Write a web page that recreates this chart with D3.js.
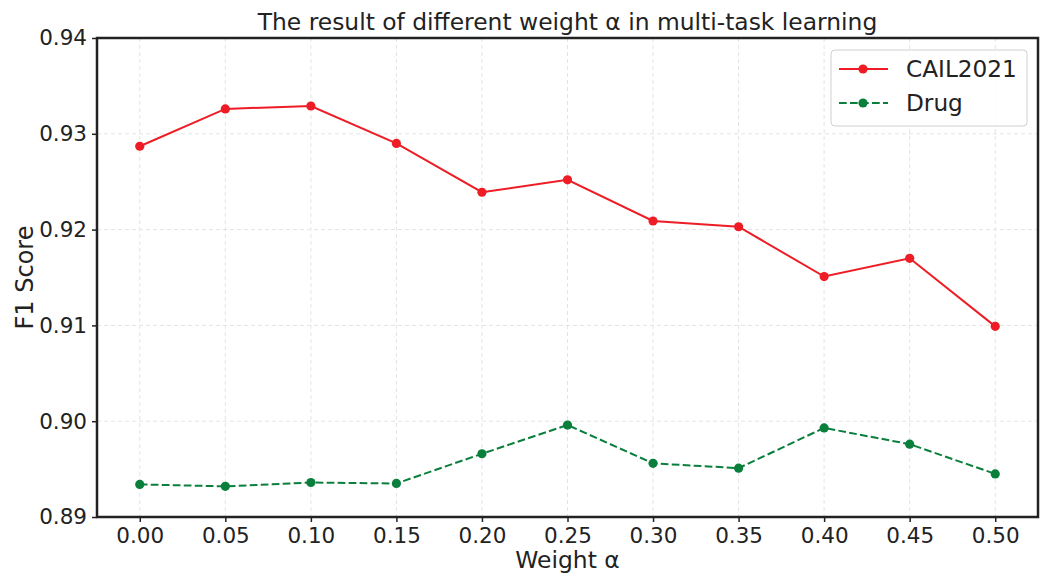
<!DOCTYPE html>
<html>
<head>
<meta charset="utf-8">
<script src="https://cdn.jsdelivr.net/npm/d3@7"></script>
<style>
  body { margin: 0; background: #fff; }
  svg { display: block; font-family: "DejaVu Sans", sans-serif; }
</style>
</head>
<body>
<div id="chart"></div>
<script>
const weights = [0.00, 0.05, 0.10, 0.15, 0.20, 0.25, 0.30, 0.35, 0.40, 0.45, 0.50];
const cail2021 = [0.9287, 0.9326, 0.9329, 0.9290, 0.9239, 0.9252, 0.9209, 0.9203, 0.9151, 0.9170, 0.9099];
const drug = [0.8934, 0.8932, 0.8936, 0.8935, 0.8966, 0.8996, 0.8956, 0.8951, 0.8993, 0.8976, 0.8945];
const yTicks = [0.89, 0.90, 0.91, 0.92, 0.93, 0.94];
const seriesNames = ["CAIL2021", "Drug"];

const width = 1044, height = 573;
const margin = { top: 38, right: 6, bottom: 56, left: 97 };

const svg = d3.select("#chart").append("svg")
	.attr("width", width)
	.attr("height", height);

const x = d3.scaleLinear()
	.domain([-0.025, 0.525])
	.range([margin.left, width - margin.right]);

const y = d3.scaleLinear()
	.domain([0.89, 0.94])
	.range([height - margin.bottom, margin.top]);

// grid
const grid = svg.append("g");
grid.selectAll(".gx").data(weights).enter().append("line")
	.attr("x1", (d) => x(d)).attr("x2", (d) => x(d))
	.attr("y1", margin.top).attr("y2", height - margin.bottom)
	.attr("stroke", "#e4e4e4").attr("stroke-width", 1).attr("stroke-dasharray", "4,3");
grid.selectAll(".gy").data(yTicks).enter().append("line")
	.attr("x1", margin.left).attr("x2", width - margin.right)
	.attr("y1", (d) => y(d)).attr("y2", (d) => y(d))
	.attr("stroke", "#e4e4e4").attr("stroke-width", 1).attr("stroke-dasharray", "4,3");

// axes
const xAxis = svg.append("g")
	.attr("transform", `translate(0,${height - margin.bottom})`)
	.call(d3.axisBottom(x).tickValues(weights).tickFormat(d3.format(".2f")).tickSizeOuter(0).tickSize(5).tickPadding(6));
const yAxis = svg.append("g")
	.attr("transform", `translate(${margin.left},0)`)
	.call(d3.axisLeft(y).tickValues(yTicks).tickFormat(d3.format(".2f")).tickSizeOuter(0).tickSize(5).tickPadding(5));

[xAxis, yAxis].forEach((a) => {
	a.select(".domain").remove();
	a.selectAll(".tick line").attr("stroke", "#222").attr("stroke-width", 1.5);
	a.selectAll(".tick text").attr("fill", "#222").style("font-size", "21.5px").style("font-family", "DejaVu Sans");
});

// frame
svg.append("rect")
	.attr("x", margin.left).attr("y", margin.top)
	.attr("width", width - margin.left - margin.right)
	.attr("height", height - margin.top - margin.bottom)
	.attr("fill", "none").attr("stroke", "#222").attr("stroke-width", 2.5);

// lines
const colors = ["#ee1d25", "#0a7f3c"];
const dashes = [null, "7.7,3.3"];
const series = [cail2021, drug];

const line = d3.line().x((d, i) => x(weights[i])).y((d) => y(d));

series.forEach((vals, s) => {
	svg.append("path")
		.datum(vals)
		.attr("d", line)
		.attr("fill", "none")
		.attr("stroke", colors[s])
		.attr("stroke-width", 2)
		.attr("stroke-dasharray", dashes[s]);
	svg.selectAll(".pt" + s).data(vals).enter().append("circle")
		.attr("cx", (d, i) => x(weights[i]))
		.attr("cy", (d) => y(d))
		.attr("r", 4.6)
		.attr("fill", colors[s]);
});

// title and labels
svg.append("text")
	.attr("x", (margin.left + width - margin.right) / 2)
	.attr("y", 30)
	.attr("text-anchor", "middle")
	.attr("fill", "#222")
	.style("font-size", "23.4px")
	.text("The result of different weight α in multi-task learning");

svg.append("text")
	.attr("x", (margin.left + width - margin.right) / 2)
	.attr("y", 568)
	.attr("text-anchor", "middle")
	.attr("fill", "#222")
	.style("font-size", "23.4px")
	.text("Weight α");

svg.append("text")
	.attr("transform", `translate(33,${(margin.top + height - margin.bottom) / 2}) rotate(-90)`)
	.attr("text-anchor", "middle")
	.attr("fill", "#222")
	.style("font-size", "24px")
	.text("F1 Score");

// legend
const legend = svg.append("g").attr("transform", "translate(831,50)");
legend.append("rect")
	.attr("width", 196).attr("height", 76)
	.attr("rx", 4)
	.attr("fill", "#fff").attr("fill-opacity", 0.8)
	.attr("stroke", "#d0d0d0").attr("stroke-width", 1);

seriesNames.forEach((name, s) => {
	const ly = 19 + s * 34;
	legend.append("line")
		.attr("x1", 8).attr("x2", 57)
		.attr("y1", ly).attr("y2", ly)
		.attr("stroke", colors[s]).attr("stroke-width", 2)
		.attr("stroke-dasharray", dashes[s]);
	legend.append("circle")
		.attr("cx", 32).attr("cy", ly).attr("r", 4.6).attr("fill", colors[s]);
	legend.append("text")
		.attr("x", 75).attr("y", ly)
		.attr("dy", "0.36em")
		.attr("fill", "#222")
		.style("font-size", "23.2px")
		.text(name);
});
</script>
</body>
</html>
